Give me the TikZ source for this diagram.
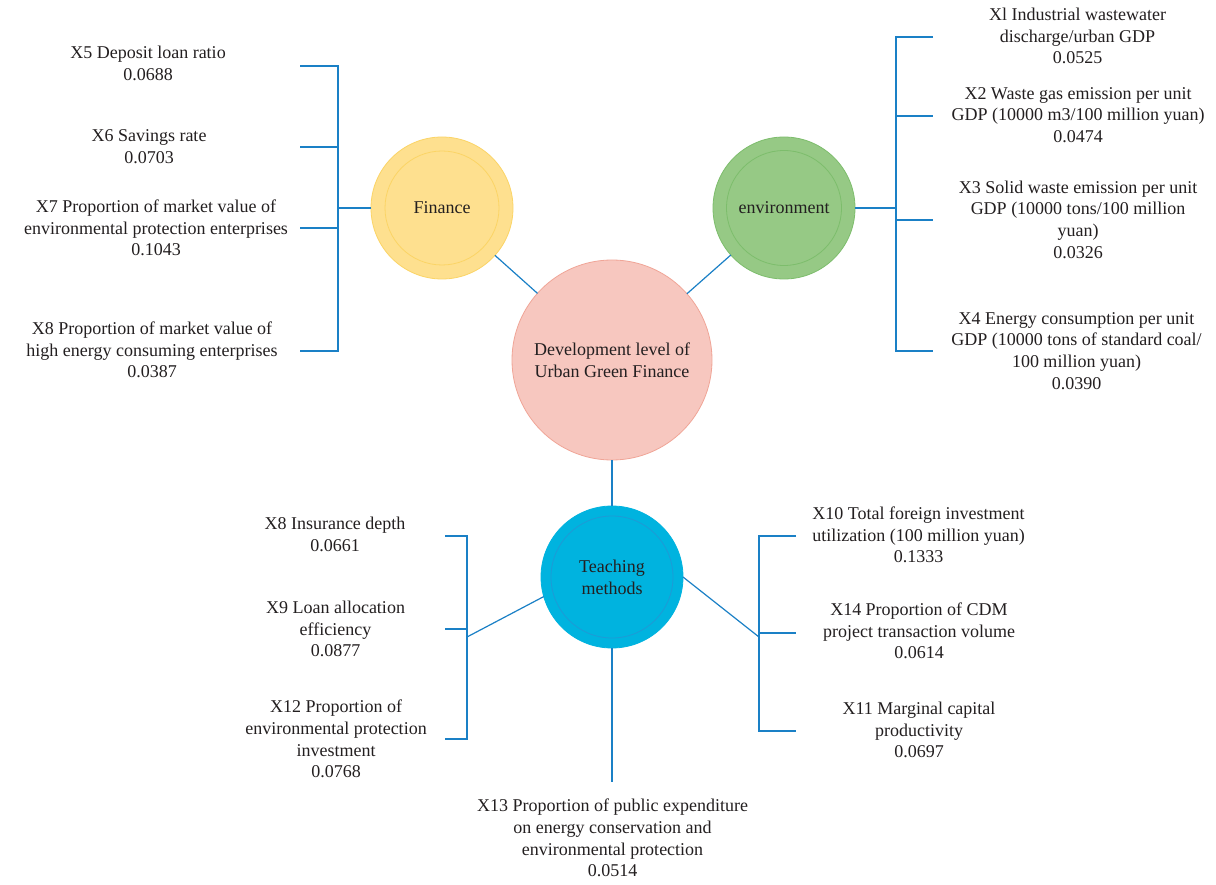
\documentclass[tikz,border=0pt]{standalone}
\usepackage{fontspec}
\setmainfont{Liberation Serif}
\definecolor{txt}{HTML}{231F20}
\definecolor{conn}{HTML}{1A80C6}
\definecolor{finF}{HTML}{FEE08F}
\definecolor{finD}{HTML}{FBD466}
\definecolor{envF}{HTML}{96C985}
\definecolor{envD}{HTML}{7DBD6C}
\definecolor{ctrF}{HTML}{F7C7BF}
\definecolor{ctrD}{HTML}{F0A597}
\definecolor{teaF}{HTML}{00B3DF}
\definecolor{teaD}{HTML}{1E9AD6}
\tikzset{
  lbl/.style={align=center, text=txt, font=\fontsize{18}{21.7}\selectfont, inner sep=0pt},
  bubble/.style={circle, minimum size=142pt, inner sep=0pt, outer sep=0pt, line width=0.8pt, align=center, text=txt, font=\fontsize{18}{21.7}\selectfont},
  link/.style={draw=conn, line width=1.2pt},
  ring/.style={line width=0.8pt}
}
\begin{document}
\begin{tikzpicture}[x=1pt,y=-1pt]
\useasboundingbox[fill=white] (0,0) rectangle (1216,885);

% central nodes
\node[bubble, minimum size=200pt, fill=ctrF, draw=ctrD] (ctr) at (612,360) {Development level of\\Urban Green Finance};
\node[bubble, fill=finF, draw=finD] (fin) at (442,208) {};
\draw[ring, draw=finD] (fin.center) circle[radius=57pt];
\node[text=txt, font=\fontsize{18}{21.7}\selectfont] at (fin.center) {Finance};
\node[bubble, fill=envF, draw=envD] (env) at (784,208) {};
\draw[ring, draw=envD] (env.center) circle[radius=57.5pt];
\node[text=txt, font=\fontsize{18}{21.7}\selectfont] at (env.center) {environment};
\node[bubble, fill=teaF, draw=teaF] (tea) at (612,577) {};
\draw[ring, draw=teaD] (tea.center) circle[radius=61pt];
\node[text=txt, align=center, font=\fontsize{18}{21.7}\selectfont] at (tea.center) {Teaching\\methods};

% hub links
\draw[link] (fin) -- (ctr);
\draw[link] (env) -- (ctr);
\draw[link] (ctr.south) -- (tea.north);

% Finance labels
\node[lbl] (l5) at (148,63.5) {X5 Deposit loan ratio\\0.0688};
\node[lbl] (l6) at (149,147) {X6 Savings rate\\0.0703};
\node[lbl] (l7) at (156,228) {X7 Proportion of market value of\\environmental protection enterprises\\0.1043};
\node[lbl] (l8a) at (152,350) {X8 Proportion of market value of\\high energy consuming enterprises\\0.0387};

\coordinate (fbm) at (338,208);
\coordinate (fbt) at (338,66);
\coordinate (fbb) at (338,351);
\coordinate (fs6) at (338,147);
\coordinate (fs7) at (338,228);
\coordinate (fe5) at (300,66);
\coordinate (fe6) at (300,147);
\coordinate (fe7) at (300,228);
\coordinate (fe8) at (300,351);
\draw[link] (fin.west) -- (fbm);
\draw[link] (fe5) -- (fbt) -- (fbb) -- (fe8);
\draw[link] (fe6) -- (fs6);
\draw[link] (fe7) -- (fs7);

% Environment labels
\node[lbl] (l1) at (1077.5,36) {Xl Industrial wastewater\\discharge/urban GDP\\0.0525};
\node[lbl] (l2) at (1078,115) {X2 Waste gas emission per unit\\GDP (10000 m3/100 million yuan)\\0.0474};
\node[lbl] (l3) at (1078,219.5) {X3 Solid waste emission per unit\\GDP (10000 tons/100 million\\yuan)\\0.0326};
\node[lbl] (l4) at (1076.5,351) {X4 Energy consumption per unit\\GDP (10000 tons of standard coal/\\100 million yuan)\\0.0390};

\coordinate (ebm) at (896,208);
\coordinate (ebt) at (896,37);
\coordinate (ebb) at (896,351);
\coordinate (es2) at (896,116);
\coordinate (es3) at (896,220);
\coordinate (ee1) at (933,37);
\coordinate (ee2) at (933,116);
\coordinate (ee3) at (933,220);
\coordinate (ee4) at (933,351);
\draw[link] (env.east) -- (ebm);
\draw[link] (ee1) -- (ebt) -- (ebb) -- (ee4);
\draw[link] (es2) -- (ee2);
\draw[link] (es3) -- (ee3);

% Teaching left labels
\node[lbl] (l8b) at (335,534.5) {X8 Insurance depth\\0.0661};
\node[lbl] (l9) at (335.5,629) {X9 Loan allocation\\efficiency\\0.0877};
\node[lbl] (l12) at (336,739) {X12 Proportion of\\environmental protection\\investment\\0.0768};

\coordinate (tlm) at (467,637);
\coordinate (tlt) at (467,536);
\coordinate (tlb) at (467,739);
\coordinate (tls) at (467,629);
\coordinate (tle8) at (445,536);
\coordinate (tle9) at (445,629);
\coordinate (tle12) at (445,739);
\draw[link] (tea.196) -- (tlm);
\draw[link] (tle8) -- (tlt) -- (tlb) -- (tle12);
\draw[link] (tle9) -- (tls);

% Teaching right labels
\node[lbl] (l10) at (918.5,535) {X10 Total foreign investment\\utilization (100 million yuan)\\0.1333};
\node[lbl] (l14) at (919,631) {X14 Proportion of CDM\\project transaction volume\\0.0614};
\node[lbl] (l11) at (919,730) {X11 Marginal capital\\productivity\\0.0697};

\coordinate (trm) at (759,637);
\coordinate (trt) at (759,536);
\coordinate (trb) at (759,731);
\coordinate (trs) at (759,633);
\coordinate (tre10) at (796,536);
\coordinate (tre14) at (796,633);
\coordinate (tre11) at (796,731);
\draw[link] (tea.east) -- (trm);
\draw[link] (tre10) -- (trt) -- (trb) -- (tre11);
\draw[link] (trs) -- (tre14);

% bottom
\node[lbl] (l13) at (612.5,838) {X13 Proportion of public expenditure\\on energy conservation and\\environmental protection\\0.0514};
\coordinate (tbe) at (612,782);
\draw[link] (tea.south) -- (tbe);
\end{tikzpicture}
\end{document}
